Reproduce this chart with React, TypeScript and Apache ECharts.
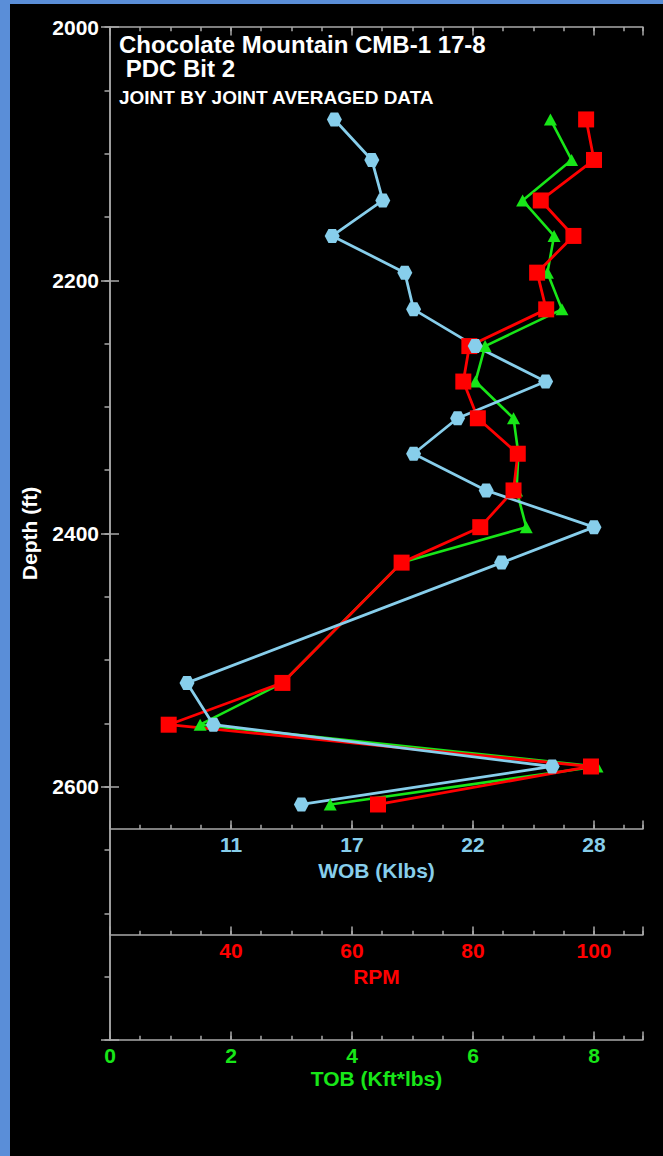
import React, { useEffect, useRef } from "react";
import * as echarts from "echarts";

// ---- data ----
const depthFt = [2073, 2105, 2137, 2165, 2194, 2223, 2252, 2280, 2309, 2337, 2366, 2395, 2423, 2518, 2551, 2584, 2614];
const wobKlbs = [15.7, 17.4, 17.9, 15.6, 18.9, 19.3, 22.1, 25.3, 21.3, 19.3, 22.6, 27.5, 23.3, 9.0, 10.2, 25.6, 14.2];
const rpmValues = [98.7, 100.0, 91.2, 96.6, 90.6, 92.1, 79.4, 78.4, 80.8, 87.4, 86.7, 81.2, 68.2, 48.5, 29.7, 99.5, 64.3];
const tobKftLbs = [7.28, 7.63, 6.82, 7.34, 7.23, 7.47, 6.2, 6.04, 6.67, 6.75, 6.72, 6.88, 4.82, 2.85, 1.49, 8.05, 3.64];

const depthTickLabels = [2000, 2200, 2400, 2600];
const wobTickLabels = [11, 16.5, 22, 27.5];
const rpmTickLabels = [40, 60, 80, 100];
const tobTickLabels = [0, 2, 4, 6, 8];

const titleLines = ["Chocolate Mountain CMB-1 17-8", " PDC Bit 2", "JOINT BY JOINT AVERAGED DATA"];

// ---- scales ----
const TOB_MIN = 0;
const TOB_MAX = 8.81;
const RPM_MIN = 20;
const RPM_MAX = RPM_MIN + TOB_MAX * 10;
const WOB_MIN = 5.5;
const WOB_MAX = WOB_MIN + TOB_MAX * 2.75;

const BG_BLUE = "#5a8ed8";
const FRAME = "#a9a9a9";
const C_WOB = "#87ceeb";
const C_RPM = "#ff0000";
const C_TOB = "#18e618";
const FONT = "'Liberation Sans', Arial, Helvetica, sans-serif";

const near = (a: number, b: number) => Math.abs(a - b) < 1e-6;
const inList = (v: number, list: number[]) => list.some((t) => near(t, v));

function xAxisDef(o: any) {
  const {
    min, max, step, tickLen, offset = 0, position = "bottom", line = true,
    labels, labelColor, fmt, name, nameGap,
  } = o;
  return {
    type: "value",
    position,
    min,
    max,
    interval: step,
    offset,
    axisLine: { show: line, lineStyle: { color: FRAME, width: 1.5 } },
    axisTick: { show: true, inside: true, length: tickLen, lineStyle: { color: FRAME, width: 1.5 } },
    axisLabel: labels
      ? {
          show: true,
          margin: 5,
          color: labelColor,
          fontSize: 21,
          fontWeight: "bold",
          fontFamily: FONT,
          formatter: (v: number) => (inList(v, labels) ? fmt(v) : ""),
        }
      : { show: false },
    splitLine: { show: false },
    name: name || "",
    nameLocation: "middle",
    nameGap: nameGap || 0,
    nameMoveOverlap: false,
    nameTextStyle: { color: labelColor, fontSize: 21, fontWeight: "bold", fontFamily: FONT },
  };
}

export default function App() {
  const ref = useRef<HTMLDivElement>(null);

  useEffect(() => {
    if (!ref.current) return;
    const chart = echarts.init(ref.current, null, { renderer: "svg" });

    const hexagon = "path://M0,5L3,0L9,0L12,5L9,10L3,10Z";

    const option: any = {
      animation: false,
      backgroundColor: "#000000",
      grid: { left: 110, top: 27, right: 20, bottom: 116, outerBoundsMode: "none", containLabel: false },
      xAxis: [
        // 0: TOB (bottom line)
        xAxisDef({
          min: TOB_MIN, max: TOB_MAX, step: 0.5, tickLen: 4.3, labels: tobTickLabels,
          labelColor: C_TOB, fmt: (v: number) => String(Math.round(v)),
          name: "TOB (Kft*lbs)", nameGap: 28,
        }),
        // 1: TOB major ticks
        xAxisDef({ min: TOB_MIN, max: TOB_MAX, step: 2, tickLen: 8.5, line: false }),
        // 2: RPM
        xAxisDef({
          min: RPM_MIN, max: RPM_MAX, step: 5, tickLen: 4.3, offset: -105,
          labels: rpmTickLabels, labelColor: C_RPM, fmt: (v: number) => String(Math.round(v)),
          name: "RPM", nameGap: 31,
        }),
        // 3: RPM major ticks
        xAxisDef({ min: RPM_MIN, max: RPM_MAX, step: 20, tickLen: 8.5, offset: -105, line: false }),
        // 4: WOB
        xAxisDef({
          min: WOB_MIN, max: WOB_MAX, step: 1.375, tickLen: 4.3, offset: -211,
          labels: wobTickLabels, labelColor: C_WOB, fmt: (v: number) => String(Math.round(v)),
          name: "WOB (Klbs)", nameGap: 31,
        }),
        // 5: WOB major ticks
        xAxisDef({ min: WOB_MIN, max: WOB_MAX, step: 5.5, tickLen: 8.5, offset: -211, line: false }),
        // 6: top frame
        xAxisDef({ min: TOB_MIN, max: TOB_MAX, step: 0.5, tickLen: 4.3, position: "top" }),
        // 7: top major ticks
        xAxisDef({ min: TOB_MIN, max: TOB_MAX, step: 2, tickLen: 8.5, position: "top", line: false }),
      ],
      yAxis: [
        {
          type: "value",
          position: "left",
          inverse: true,
          min: 2000,
          max: 2800,
          interval: 200,
          axisLine: { show: true, lineStyle: { color: FRAME, width: 1.5 } },
          axisTick: { show: true, inside: true, length: 9, lineStyle: { color: FRAME, width: 1.5 } },
          axisLabel: {
            show: true,
            margin: 11,
            color: "#ffffff",
            fontSize: 21,
            fontWeight: "bold",
            fontFamily: FONT,
            formatter: (v: number) => (inList(v, depthTickLabels) ? String(v) : ""),
          },
          splitLine: { show: false },
          name: "Depth (ft)",
          nameLocation: "middle",
          nameGap: 70,
          nameMoveOverlap: false,
          nameTextStyle: { color: "#ffffff", fontSize: 21, fontWeight: "bold", fontFamily: FONT },
        },
        {
          type: "value",
          position: "right",
          inverse: true,
          min: 2000,
          max: 2800,
          interval: 50,
          axisLine: { show: true, lineStyle: { color: FRAME, width: 1.5 } },
          axisTick: { show: true, inside: true, length: 5.5, lineStyle: { color: FRAME, width: 1.5 } },
          axisLabel: { show: false },
          splitLine: { show: false },
        },
        {
          type: "value",
          position: "right",
          inverse: true,
          min: 2000,
          max: 2800,
          interval: 200,
          axisLine: { show: false },
          axisTick: { show: true, inside: true, length: 9, lineStyle: { color: FRAME, width: 1.5 } },
          axisLabel: { show: false },
          splitLine: { show: false },
        },
      ],
      graphic: [
        { type: "rect", shape: { x: 0, y: 0, width: 10, height: 1156 }, style: { fill: BG_BLUE } },
        { type: "rect", shape: { x: 0, y: 0, width: 663, height: 4 }, style: { fill: BG_BLUE } },
        {
          type: "text", x: 119, y: 44,
          style: { text: titleLines[0], fill: "#ffffff", fontSize: 24, fontWeight: "bold", fontFamily: FONT, verticalAlign: "middle" },
        },
        {
          type: "text", x: 119, y: 68.5,
          style: { text: titleLines[1], fill: "#ffffff", fontSize: 24, fontWeight: "bold", fontFamily: FONT, verticalAlign: "middle" },
        },
        {
          type: "text", x: 119, y: 97,
          style: { text: titleLines[2], fill: "#ffffff", fontSize: 19, fontWeight: "bold", fontFamily: FONT, verticalAlign: "middle" },
        },
      ],
      series: [
        {
          type: "line",
          name: "TOB",
          xAxisIndex: 0,
          yAxisIndex: 0,
          data: depthFt.map((d, i) => [tobKftLbs[i], d]),
          symbol: "triangle",
          symbolSize: [13, 12],
          showSymbol: true,
          lineStyle: { color: C_TOB, width: 2.6 },
          itemStyle: { color: C_TOB },
        },
        {
          type: "line",
          name: "RPM",
          xAxisIndex: 2,
          yAxisIndex: 0,
          data: depthFt.map((d, i) => [rpmValues[i], d]),
          symbol: "rect",
          symbolSize: 16,
          showSymbol: true,
          lineStyle: { color: C_RPM, width: 2.8 },
          itemStyle: { color: C_RPM },
        },
        {
          type: "line",
          name: "WOB",
          xAxisIndex: 4,
          yAxisIndex: 0,
          data: depthFt.map((d, i) => [wobKlbs[i], d]),
          symbol: hexagon,
          symbolSize: [15, 14],
          showSymbol: true,
          lineStyle: { color: C_WOB, width: 2.8 },
          itemStyle: { color: C_WOB },
        },
      ],
    };

    chart.setOption(option);
    return () => chart.dispose();
  }, []);

  return (
    <div
      ref={ref}
      style={{ position: "absolute", left: 0, top: 0, width: 663, height: 1156 }}
    />
  );
}
